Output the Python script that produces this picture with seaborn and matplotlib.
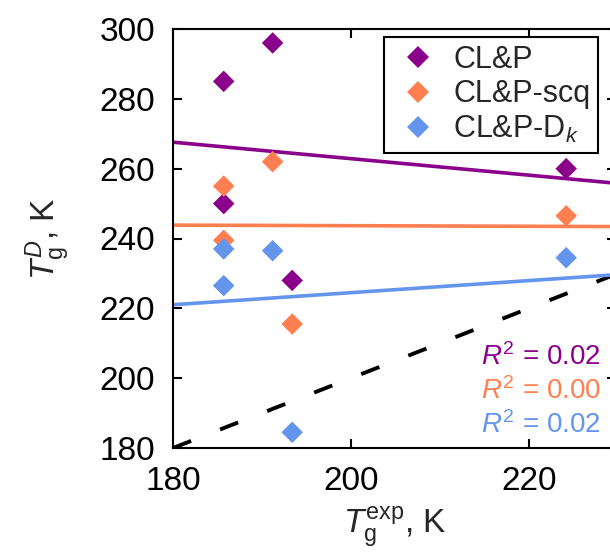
import numpy as np
import pandas as pd
import matplotlib
matplotlib.use("Agg")
import matplotlib.pyplot as plt
import seaborn as sns

# ---- data ----
methods = ["CL&P", "CL&P-scq", "CL&P-D$_k$"]
colors = ["#8B008B", "#FF7F50", "#6495ED"]
t_exp = [185.7, 191.2, 185.7, 193.4, 224.2]
tg_clp = [285.0, 296.0, 250.0, 228.0, 260.0]
tg_scq = [255.0, 262.0, 239.5, 215.5, 246.5]
tg_dk = [237.0, 236.5, 226.5, 184.5, 234.5]
r2_labels = ["0.02", "0.00", "0.02"]
x_ticks = [180, 200, 220]
y_ticks = [180, 200, 220, 240, 260, 280, 300]

series = [tg_clp, tg_scq, tg_dk]
df = pd.concat(
    [pd.DataFrame({"x": t_exp, "y": s, "method": m}) for s, m in zip(series, methods)],
    ignore_index=True,
)

sns.set_theme(style="ticks")
plt.rcParams["font.family"] = ["Liberation Sans", "DejaVu Sans"]
plt.rcParams["mathtext.fontset"] = "custom"
plt.rcParams["mathtext.rm"] = "Liberation Sans"
plt.rcParams["mathtext.it"] = "Liberation Sans:italic"
plt.rcParams["mathtext.bf"] = "Liberation Sans:bold"

W, H = 610, 554
fig = plt.figure(figsize=(W / 100, H / 100), dpi=100)
left, right, top, bottom = 173, 616, 29, 448
ax = fig.add_axes([left / W, 1 - bottom / H, (right - left) / W, (bottom - top) / H])

xmax = 229.8
ax.set_xticks(x_ticks)
ax.set_yticks(y_ticks)
ax.set_xlim(180, xmax)
ax.set_ylim(180, 300)

# y = x reference
ax.axline((180, 180), slope=1, color="black", lw=2.8, dashes=(5, 8), zorder=1)

# regression lines
for s, c in zip(series, colors):
    sns.regplot(x=t_exp, y=s, ax=ax, scatter=False, ci=None, truncate=False,
                line_kws=dict(color=c, lw=2.6, zorder=2))

sns.scatterplot(data=df, x="x", y="y", hue="method", palette=colors, marker="D",
                s=120, linewidth=0, ax=ax, zorder=3)

ax.set_xticks(x_ticks)
ax.set_yticks(y_ticks)
ax.set_xlim(180, xmax)
ax.set_ylim(180, 300)

for sp in ax.spines.values():
    sp.set_linewidth(1.5)
    sp.set_color("black")
    sp.set_visible(True)
ax.tick_params(direction="in", length=6.5, width=1.5, labelsize=24, pad=13,
               top=True, right=True, colors="black")

ax.set_xlabel(r"$T_\mathrm{g}^\mathrm{exp}$, K", fontsize=24, labelpad=6)
ax.set_ylabel(r"$T_\mathrm{g}^{D}$, K", fontsize=24, labelpad=20)

leg = ax.legend(loc="upper right", bbox_to_anchor=(598 / W, 1 - 37 / H),
                bbox_transform=fig.transFigure, borderaxespad=0, frameon=True,
                fancybox=False, framealpha=1, edgecolor="black", fontsize=22,
                handletextpad=0.3, labelspacing=0.15, borderpad=0.25,
                handlelength=1.7)
leg.get_frame().set_linewidth(1.5)
for h in leg.legend_handles:
    h.set_markersize(np.sqrt(130))
    h.set_markeredgewidth(0)

for i, (lab, c) in enumerate(zip(r2_labels, colors)):
    fig.text(601 / W, 1 - (357 + 34 * i) / H, r"$R^2$ = " + lab, color=c,
             fontsize=20, ha="right", va="center")

fig.savefig("out.png", dpi=100)
